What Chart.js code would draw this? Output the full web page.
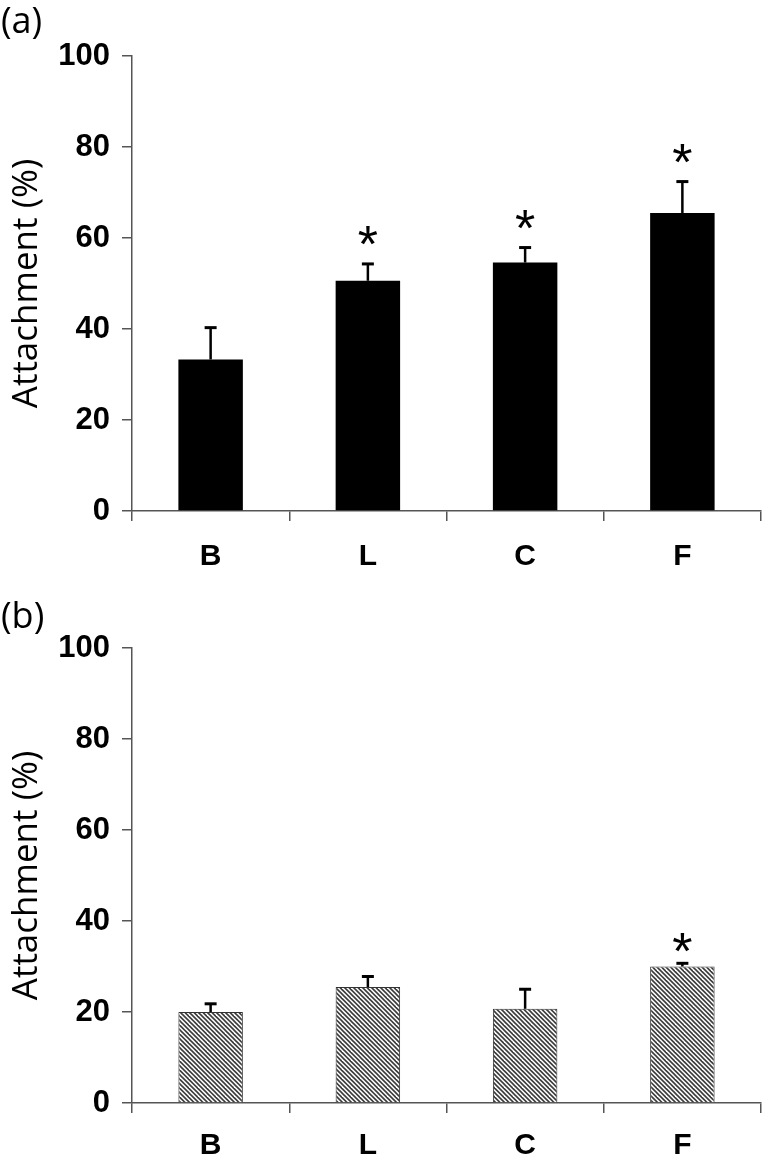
<!DOCTYPE html>
<html>
<head>
<meta charset="utf-8">
<script src="https://cdn.jsdelivr.net/npm/chart.js@4.4.1/dist/chart.umd.min.js"></script>
<style>
  body { margin: 0; background: #fff; }
  #pagina { position: relative; width: 768px; height: 1163px; overflow: hidden; }
  .painel { position: absolute; left: 0; width: 768px; }
  .letra { position: absolute; left: 1px; font-family: 'Open Sans', sans-serif; font-size: 36px; color: #000; line-height: 1; }
</style>
</head>
<body>
<div id="pagina">
  <div class="painel" style="top:0;height:580px"><canvas id="graficoA"></canvas></div>
  <div class="painel" style="top:580px;height:583px"><canvas id="graficoB"></canvas></div>
  <div class="letra" style="top:2px">(a)</div>
  <div class="letra" style="top:597px">(b)</div>
</div>
<script>
// dados
const CATEGORIAS = ['B', 'L', 'C', 'F'];
const TICKS_Y = [0, 20, 40, 60, 80, 100];

const MEDIAS_A = [33.3, 50.6, 54.6, 65.5];
const ERROS_A = [7.0, 3.7, 3.3, 6.9];
const SIGNIF_A = [false, true, true, true];

const MEDIAS_B = [20.0, 25.5, 20.7, 30.0];
const ERROS_B = [1.8, 2.3, 4.3, 0.7];
const SIGNIF_B = [false, false, false, true];

const TITULO_Y = 'Attachment (%)';

// hachura diagonal das barras de baixo
function criarHachura() {
  const c = document.createElement('canvas');
  c.width = 9; c.height = 9;
  const g = c.getContext('2d');
  g.fillStyle = '#fff';
  g.fillRect(0, 0, 9, 9);
  g.strokeStyle = '#3c3c3c';
  g.lineWidth = 1.6;
  for (let k = -3; k <= 3; k++) {
    g.beginPath();
    g.moveTo(k * 4.5 - 1, -1);
    g.lineTo(k * 4.5 + 10, 10);
    g.stroke();
  }
  return g.createPattern(c, 'repeat');
}

// barras de erro (so para cima) e asteriscos
const pluginErros = {
  id: 'erros',
  afterDatasetsDraw(chart, args, opts) {
    const ctx = chart.ctx;
    const escalaY = chart.scales.y;
    const meta = chart.getDatasetMeta(0);
    ctx.save();
    meta.data.forEach((barra, i) => {
      const topo = escalaY.getPixelForValue(opts.medias[i] + opts.erros[i]);
      ctx.strokeStyle = '#000';
      ctx.lineWidth = 2.5;
      ctx.beginPath();
      ctx.moveTo(barra.x, barra.y);
      ctx.lineTo(barra.x, topo);
      ctx.stroke();
      ctx.lineWidth = 3;
      ctx.beginPath();
      ctx.moveTo(barra.x - 6, topo);
      ctx.lineTo(barra.x + 6, topo);
      ctx.stroke();
      if (opts.signif[i]) {
        ctx.font = '52px "Liberation Sans"';
        ctx.fillStyle = '#000';
        ctx.textAlign = 'center';
        ctx.textBaseline = 'alphabetic';
        const m = ctx.measureText('*');
        const centro = topo - opts.distancia;
        ctx.fillText('*', barra.x, centro + (m.actualBoundingBoxAscent - m.actualBoundingBoxDescent) / 2);
      }
    });
    ctx.restore();
  }
};

function opcoesEscalas(alturaX, folgaRotulo) {
  return {
    x: {
      grid: { offset: true, drawOnChartArea: false, drawTicks: true, tickLength: 10, color: '#555', lineWidth: 1.5 },
      border: { display: true, color: '#555', width: 1.5 },
      ticks: { color: '#000', font: { family: 'Liberation Sans', size: 30, weight: 'bold' }, padding: folgaRotulo },
      afterFit: s => { s.height = alturaX; }
    },
    y: {
      min: 0,
      max: 100,
      afterBuildTicks: s => { s.ticks = TICKS_Y.map(v => ({ value: v })); },
      grid: { drawOnChartArea: false, drawTicks: true, tickLength: 10, color: '#555', lineWidth: 1.5 },
      border: { display: true, color: '#555', width: 1.5 },
      ticks: { color: '#000', font: { family: 'Liberation Sans', size: 31, weight: 'bold' }, padding: 12 },
      title: {
        display: true,
        text: TITULO_Y,
        color: '#000',
        font: { family: 'Open Sans', size: 35 },
        padding: { top: 6, bottom: 0 }
      },
      afterFit: s => { s.width = 132; }
    }
  };
}

function criarGrafico(idCanvas, medias, erros, signif, estiloBarra, topo, alturaX, folgaRotulo, distancia) {
  return new Chart(document.getElementById(idCanvas), {
    type: 'bar',
    data: {
      labels: CATEGORIAS,
      datasets: [Object.assign({
        data: medias,
        categoryPercentage: 1,
        barPercentage: 0.41
      }, estiloBarra)]
    },
    options: {
      responsive: true,
      maintainAspectRatio: false,
      animation: false,
      layout: { padding: { top: topo, right: 7, left: 0, bottom: 0 } },
      plugins: {
        legend: { display: false },
        tooltip: { enabled: false },
        erros: { medias: medias, erros: erros, signif: signif, distancia: distancia }
      },
      scales: opcoesEscalas(alturaX, folgaRotulo)
    },
    plugins: [pluginErros]
  });
}

criarGrafico('graficoA', MEDIAS_A, ERROS_A, SIGNIF_A,
  { backgroundColor: '#000', borderWidth: 0 }, 56, 69, 18, 28);

criarGrafico('graficoB', MEDIAS_B, ERROS_B, SIGNIF_B,
  { backgroundColor: criarHachura(), borderColor: '#333', borderWidth: 1 }, 68, 60, 15, 21);
</script>
</body>
</html>
